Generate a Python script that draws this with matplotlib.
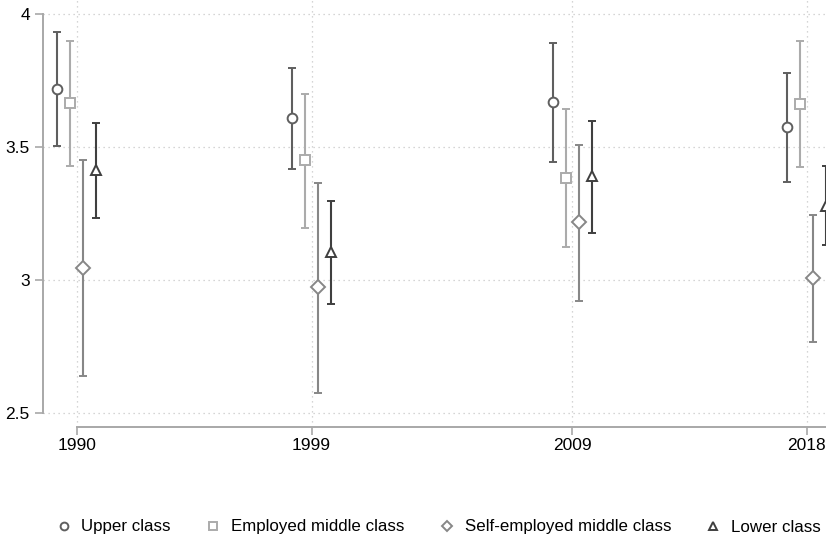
import numpy as np
import matplotlib
matplotlib.use('Agg')
import matplotlib.pyplot as plt

plt.rcParams['font.family'] = ['Liberation Sans', 'DejaVu Sans']

years = [1990, 1999, 2009, 2018]
groups = ['Upper class', 'Employed middle class',
          'Self-employed middle class', 'Lower class']

# means and 95% interval bounds
upper_mean = [3.72, 3.61, 3.67, 3.575]
upper_lo = [3.504, 3.416, 3.445, 3.368]
upper_hi = [3.931, 3.796, 3.890, 3.777]

empl_mean = [3.664, 3.451, 3.382, 3.662]
empl_lo = [3.430, 3.197, 3.123, 3.426]
empl_hi = [3.898, 3.698, 3.643, 3.898]

self_mean = [3.046, 2.975, 3.217, 3.009]
self_lo = [2.640, 2.576, 2.921, 2.768]
self_hi = [3.450, 3.364, 3.506, 3.243]

lower_mean = [3.414, 3.106, 3.392, 3.28]
lower_lo = [3.232, 2.909, 3.178, 3.130]
lower_hi = [3.589, 3.298, 3.599, 3.429]

means = [upper_mean, empl_mean, self_mean, lower_mean]
lows = [upper_lo, empl_lo, self_lo, lower_lo]
highs = [upper_hi, empl_hi, self_hi, lower_hi]

offsets = [-0.75, -0.25, 0.25, 0.75]
markers = ['o', 's', 'D', '^']
msizes = [7, 6.5, 7, 7]
colors = ['#5f5f5f', '#ababab', '#878787', '#3f3f3f']

fig = plt.figure(figsize=(8.26, 5.37), dpi=100)
W, H = 826.0, 537.0
# plot region runs past the right edge of the picture (cropped like the original)
ax = fig.add_axes([43 / W, (H - 427) / H, (846 - 43) / W, 427 / H])
ax.set_xlim(1988.7, 2019.5)
ax.set_ylim(2.447, 4.053)

handles = []
for m, lo, hi, off, mk, ms, c, g in zip(means, lows, highs, offsets,
                                        markers, msizes, colors, groups):
    m = np.array(m)
    x = np.array(years) + off
    err = [m - np.array(lo), np.array(hi) - m]
    cont = ax.errorbar(x, m, yerr=err, fmt=mk, ms=ms,
                       mfc='white', mec=c, mew=1.4, ecolor=c, elinewidth=1.5,
                       capsize=3, capthick=1.5, label=g, zorder=3)
    handles.append(cont[0])

ax.set_xticks(years)
ax.set_xticklabels([str(y) for y in years])
ax.set_yticks([2.5, 3, 3.5, 4])
ax.set_yticklabels(['2.5', '3', '3.5', '4'])

ax.grid(True, color='#c8c8c8', linestyle=(0, (1, 3)), linewidth=0.9)
ax.set_axisbelow(True)

for s in ['top', 'right']:
    ax.spines[s].set_visible(False)
ax.spines['left'].set_bounds(2.5, 4)
ax.spines['bottom'].set_bounds(1990, 2019.5)
for s in ['left', 'bottom']:
    ax.spines[s].set_color('#a8a8a8')
    ax.spines[s].set_linewidth(1.4)

ax.tick_params(axis='both', colors='#a8a8a8', length=6, width=1.2,
               labelcolor='black', labelsize=12.5)
ax.tick_params(axis='y', pad=3.5)
ax.tick_params(axis='x', pad=2)

leg = fig.legend(handles, groups, loc='center', ncol=4,
                 bbox_to_anchor=(438 / W, 1 - 527 / H), frameon=False,
                 fontsize=12.2, handletextpad=0.55, columnspacing=2.0,
                 markerscale=0.8, handlelength=1.0)

fig.savefig('out.png', dpi=100)
